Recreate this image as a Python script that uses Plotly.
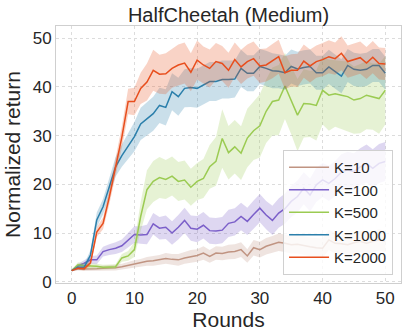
import plotly.graph_objects as go

rounds = list(range(51))

k10 = [2.3, 2.6, 2.6, 2.6, 2.7, 2.8, 2.8, 2.9, 3.1, 3.4, 3.6, 3.9, 4.2, 4.3, 4.5, 4.8, 4.6, 4.5, 4.9, 5.2,
       5.4, 5.9, 5.2, 5.9, 5.8, 6.1, 6.2, 6.6, 5.3, 7.0, 6.6, 7.3, 7.7, 8.1, 7.9, 7.6, 7.7, 7.4, 7.2, 7.0,
       6.9, 8.6, 7.9, 7.8, 7.6, 8.0, 8.3, 7.9, 8.2, 8.6, 8.3]
k10_sd = [0.1, 0.3, 0.4, 0.4, 0.5, 0.5, 0.5, 0.6, 0.6, 0.7, 0.8, 0.8, 0.9, 1.0, 1.0, 1.1, 1.1, 1.2, 1.2, 1.3,
          1.3, 1.4, 1.3, 1.4, 1.4, 1.5, 1.5, 1.5, 1.4, 1.6, 1.6, 1.7, 1.7, 1.8, 1.8, 1.8, 1.9, 1.9, 1.9, 2.0,
          2.0, 2.1, 2.1, 2.1, 2.2, 2.2, 2.2, 2.2, 2.2, 2.2, 2.2]

k100 = [2.3, 3.3, 3.8, 4.5, 4.5, 6.2, 6.6, 6.9, 7.4, 8.6, 9.7, 9.6, 9.7, 11.9, 11.0, 11.2, 10.0, 11.2, 12.6, 11.0,
        10.8, 11.6, 10.5, 10.4, 10.6, 12.0, 12.3, 13.4, 12.4, 13.8, 15.1, 13.7, 12.6, 14.1, 15.0, 16.5, 17.5, 19.2, 17.8, 19.9,
        20.9, 20.2, 21.2, 22.5, 23.0, 22.6, 23.6, 24.3, 23.3, 24.3, 24.7]
k100_sd = [0.1, 0.4, 0.6, 0.8, 0.9, 1.0, 1.1, 1.2, 1.3, 1.5, 1.7, 1.8, 2.0, 2.2, 2.3, 2.4, 2.4, 2.5, 2.6, 2.6,
           2.7, 2.7, 2.7, 2.7, 2.7, 2.8, 2.8, 2.8, 2.8, 2.9, 2.9, 2.9, 3.0, 3.0, 3.1, 3.2, 3.3, 3.3, 3.4, 3.5,
           3.5, 3.6, 3.6, 3.7, 3.7, 3.8, 3.8, 3.9, 3.9, 4.0, 4.0]

k500 = [2.3, 3.5, 3.3, 3.3, 3.2, 3.0, 3.1, 3.1, 4.9, 5.3, 6.6, 13.4, 18.9, 20.6, 21.4, 21.0, 21.7, 20.6, 20.9, 19.4,
        20.6, 21.2, 23.6, 24.7, 29.4, 26.5, 27.7, 26.4, 29.5, 31.0, 32.0, 35.0, 37.0, 37.3, 40.2, 37.3, 34.2, 36.6, 36.5, 36.2,
        39.3, 38.3, 38.6, 38.3, 38.0, 37.3, 37.6, 38.3, 38.0, 37.6, 39.3]
k500_sd = [0.1, 0.5, 0.5, 0.5, 0.5, 0.5, 0.5, 0.5, 0.8, 1.0, 1.5, 3.0, 4.0, 4.2, 4.2, 4.0, 4.0, 4.0, 4.0, 3.8,
           3.8, 4.0, 4.5, 5.0, 6.0, 5.5, 5.5, 5.5, 6.0, 6.0, 6.5, 6.5, 7.0, 7.2, 6.8, 7.0, 7.4, 7.0, 6.8, 7.2,
           7.0, 7.3, 6.8, 7.0, 7.2, 6.9, 7.1, 7.0, 6.8, 7.2, 7.0]

k1000 = [2.3, 3.0, 3.0, 5.5, 12.7, 15.4, 19.5, 23.6, 25.9, 27.9, 29.8, 32.4, 33.4, 34.5, 36.2, 35.8, 39.0, 38.0, 39.7, 39.9,
         39.7, 40.4, 41.1, 41.1, 41.5, 41.5, 41.6, 43.8, 42.8, 42.8, 44.2, 43.8, 43.3, 43.2, 42.9, 44.2, 43.7, 44.0, 44.2, 42.9,
         42.9, 44.1, 43.2, 42.2, 44.4, 43.6, 43.4, 43.6, 44.4, 44.4, 42.8]
k1000_sd = [0.1, 0.4, 0.6, 1.0, 1.5, 1.6, 1.8, 2.0, 2.3, 2.6, 3.0, 3.3, 3.4, 3.5, 3.6, 3.7, 3.8, 3.9, 3.9, 4.0,
            4.0, 4.0, 4.0, 4.0, 3.9, 3.9, 3.8, 3.8, 3.7, 3.7, 3.6, 3.6, 3.6, 3.5, 3.5, 3.5, 3.5, 3.5, 3.5, 3.5,
            3.5, 3.5, 3.5, 3.5, 3.4, 3.4, 3.4, 3.4, 3.4, 3.4, 3.4]

k2000 = [2.3, 2.8, 2.7, 3.9, 10.2, 12.0, 17.4, 23.6, 29.7, 37.0, 37.0, 39.7, 41.0, 43.4, 42.6, 42.7, 43.8, 44.5, 44.9, 43.0,
         45.5, 44.5, 43.8, 45.2, 44.8, 43.4, 45.6, 44.1, 45.2, 45.8, 44.3, 44.5, 45.3, 46.2, 42.9, 43.4, 43.4, 45.3, 44.3, 45.2,
         45.6, 46.2, 45.8, 46.9, 45.2, 45.6, 46.0, 44.9, 46.1, 44.8, 44.7]
k2000_sd = [0.1, 0.3, 0.4, 0.6, 1.0, 1.2, 1.5, 1.8, 2.2, 2.6, 2.8, 3.2, 3.8, 4.2, 4.0, 4.2, 4.0, 4.2, 4.2, 3.9,
            4.0, 3.8, 3.9, 3.8, 3.6, 3.6, 3.5, 3.5, 3.5, 3.5, 3.5, 3.4, 3.5, 3.5, 3.4, 3.3, 3.4, 3.4, 3.4, 3.3,
            3.4, 3.4, 3.3, 3.5, 3.3, 3.3, 3.3, 3.3, 3.3, 3.3, 3.3]

names = ["K=10", "K=100", "K=500", "K=1000", "K=2000"]
means = [k10, k100, k500, k1000, k2000]
sds = [k10_sd, k100_sd, k500_sd, k1000_sd, k2000_sd]
colors = ["#c09482", "#7b5fc9", "#9bcb52", "#2b7fab", "#e84e1d"]

x_ticks = [0, 10, 20, 30, 40, 50]
y_ticks = [0, 10, 20, 30, 40, 50]


def rgba(hexc, a):
    h = hexc.lstrip("#")
    r, g, b = int(h[0:2], 16), int(h[2:4], 16), int(h[4:6], 16)
    return f"rgba({r},{g},{b},{a})"


fig = go.Figure()
for name, m, s, c in zip(names, means, sds, colors):
    upper = [a + b for a, b in zip(m, s)]
    lower = [a - b for a, b in zip(m, s)]
    fig.add_trace(go.Scatter(x=rounds, y=upper, mode="lines", line=dict(width=0),
                             showlegend=False, hoverinfo="skip", legendgroup=name))
    fig.add_trace(go.Scatter(x=rounds, y=lower, mode="lines", line=dict(width=0),
                             fill="tonexty", fillcolor=rgba(c, 0.25),
                             showlegend=False, hoverinfo="skip", legendgroup=name))
    fig.add_trace(go.Scatter(x=rounds, y=m, mode="lines", name=name,
                             line=dict(color=c, width=1.5), legendgroup=name))

axis_common = dict(
    showgrid=True, gridcolor="#dcdcdc", griddash="dot", gridwidth=1,
    showline=True, mirror=True, linecolor="#cfcfcf", linewidth=1,
    ticks="", zeroline=False, automargin=False,
    tickfont=dict(size=17, color="#262626"),
)

fig.update_layout(
    width=407, height=336,
    margin=dict(l=56, r=6, t=26, b=53),
    paper_bgcolor="white", plot_bgcolor="white",
    font=dict(family="Liberation Sans, Arial, sans-serif", color="#262626"),
    title=dict(text="HalfCheetah (Medium)", x=0.5, xref="paper", xanchor="center",
               y=0.955, yanchor="middle", font=dict(size=20, color="#262626")),
    xaxis=dict(range=[-2.5, 52.5], tickvals=x_ticks,
               title=dict(text="Rounds", font=dict(size=21, color="#262626"), standoff=2),
               **axis_common),
    yaxis=dict(range=[-0.25, 52.5], tickvals=y_ticks,
               title=dict(text="Normalized return", font=dict(size=21, color="#262626"), standoff=6),
               **axis_common),
    legend=dict(x=0.977, y=0.031, xanchor="right", yanchor="bottom",
                bgcolor="rgba(255,255,255,0.8)", bordercolor="#d0d0d0", borderwidth=1,
                font=dict(size=15, color="#262626"), itemwidth=40, tracegroupgap=0),
    showlegend=True,
)

fig.write_html("out.html", config={"displayModeBar": False},
               post_script="document.body.style.margin='0';document.body.style.overflow='hidden';")
